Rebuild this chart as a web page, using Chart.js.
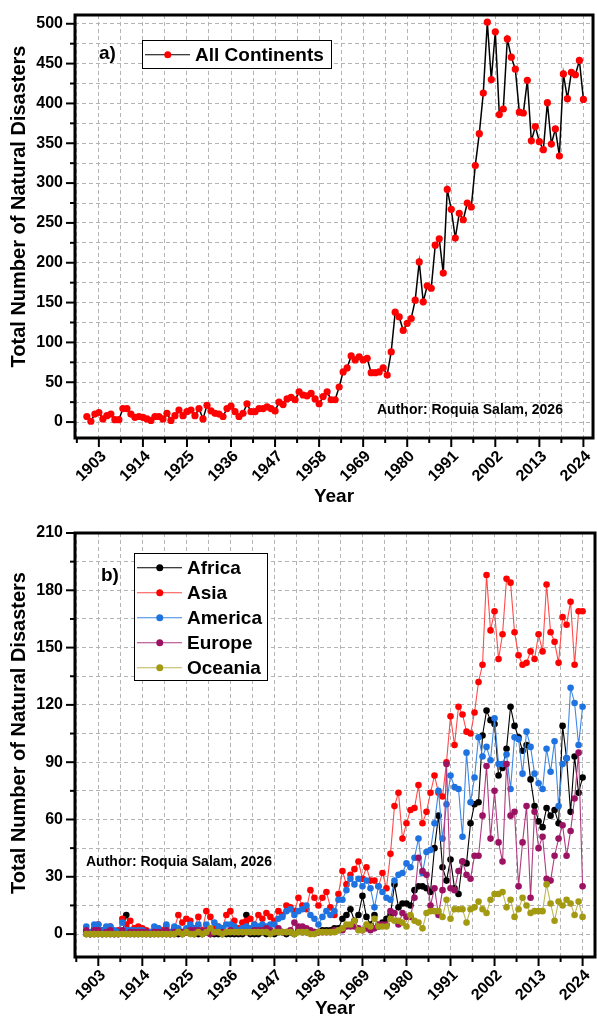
<!DOCTYPE html>
<html>
<head>
<meta charset="utf-8">
<script src="https://cdn.jsdelivr.net/npm/chart.js@4.4.1/dist/chart.umd.min.js"></script>
<style>
html,body{margin:0;padding:0;background:#fff;}
#wrap{position:relative;width:597px;height:1017px;overflow:hidden;font-family:"Liberation Sans",Arial,Helvetica,sans-serif;font-weight:bold;color:#000;}
.pane{position:absolute;left:0;width:597px;}
#p1{top:0;height:508px;}
#p2{top:508px;height:509px;}
canvas{display:block;}
.lbl{position:absolute;white-space:nowrap;}
.legend{position:absolute;border:1px solid #000;background:#fff;box-sizing:border-box;}
.row{position:absolute;left:2px;display:flex;align-items:center;}
.sample{position:relative;width:45px;height:10px;flex:none;}
.sample .ln{position:absolute;left:0;top:50%;width:45px;height:1.5px;transform:translateY(-50%);}
.sample .dt{position:absolute;left:50%;top:50%;width:7.5px;height:7.5px;border-radius:50%;transform:translate(-50%,-50%);}
.row .tx{margin-left:5px;font-size:19px;line-height:19px;white-space:nowrap;}
</style>
</head>
<body>
<div id="wrap">
  <div class="pane" id="p1"><canvas id="c1" width="597" height="508"></canvas></div>
  <div class="pane" id="p2"><canvas id="c2" width="597" height="509"></canvas></div>
  <div class="lbl" style="left:99px;top:43px;font-size:19px;line-height:19px;">a)</div>
  <div class="lbl" style="left:101px;top:565px;font-size:19px;line-height:19px;">b)</div>
  <div class="lbl" style="left:377px;top:401px;font-size:14px;line-height:16px;">Author: Roquia Salam, 2026</div>
  <div class="lbl" style="left:86px;top:853px;font-size:14px;line-height:16px;">Author: Roquia Salam, 2026</div>
  <div class="legend" id="legA" style="left:142px;top:40px;width:190px;height:29px;"></div>
  <div class="legend" id="legB" style="left:134px;top:553px;width:134px;height:128px;"></div>
</div>
<script>
// ---------------- DATA ----------------
const years = [
  1900,1901,1902,1903,1904,1905,1906,1907,1908,1909,
  1910,1911,1912,1913,1914,1915,1916,1917,1918,1919,
  1920,1921,1922,1923,1924,1925,1926,1927,1928,1929,
  1930,1931,1932,1933,1934,1935,1936,1937,1938,1939,
  1940,1941,1942,1943,1944,1945,1946,1947,1948,1949,
  1950,1951,1952,1953,1954,1955,1956,1957,1958,1959,
  1960,1961,1962,1963,1964,1965,1966,1967,1968,1969,
  1970,1971,1972,1973,1974,1975,1976,1977,1978,1979,
  1980,1981,1982,1983,1984,1985,1986,1987,1988,1989,
  1990,1991,1992,1993,1994,1995,1996,1997,1998,1999,
  2000,2001,2002,2003,2004,2005,2006,2007,2008,2009,
  2010,2011,2012,2013,2014,2015,2016,2017,2018,2019,
  2020,2021,2022,2023,2024
];
const allContinents = [
  7,1,10,12,4,8,10,3,3,17,
  17,10,6,7,6,4,2,7,7,4,
  11,2,8,15,8,13,15,8,17,4,
  21,14,11,10,7,17,20,13,7,11,
  23,13,13,17,17,19,17,14,25,22,
  29,31,28,38,34,33,36,29,23,32,
  38,28,28,44,63,68,83,78,82,78,
  80,62,62,63,68,59,88,138,132,115,
  124,130,153,201,151,171,168,222,230,187,
  292,267,231,262,254,275,270,322,362,413,
  502,430,490,386,393,481,458,443,389,388,
  429,353,371,352,342,401,349,368,334,437,
  406,439,436,454,405
];
const africa = [
  0,0,0,0,0,0,0,0,0,1,
  10,0,0,0,0,0,0,0,0,0,
  0,0,0,0,0,1,1,0,0,0,
  1,0,0,0,0,0,0,0,0,0,
  10,0,0,0,1,0,1,0,1,1,
  0,1,0,2,1,1,1,1,1,2,
  2,2,3,3,8,10,13,7,10,20,
  9,5,10,4,6,8,10,26,14,16,
  16,15,23,25,25,24,22,45,62,35,
  28,39,24,21,38,37,58,68,69,104,
  117,112,110,83,87,97,119,109,103,96,
  99,81,67,59,56,66,62,65,58,109,
  92,64,93,74,82
];
const asia = [
  1,0,3,5,2,3,4,1,2,8,
  5,7,3,4,3,2,1,2,3,2,
  4,1,3,10,6,8,7,3,9,2,
  12,9,3,4,3,10,12,7,3,6,
  7,8,5,10,8,11,9,7,12,10,
  15,14,12,19,15,13,23,19,15,19,
  22,14,10,21,33,26,31,34,38,29,
  35,28,28,25,32,24,42,67,74,50,
  58,65,66,78,58,64,74,83,74,72,
  90,114,99,119,115,106,105,116,132,141,
  188,159,169,144,157,186,184,158,146,141,
  142,148,144,157,148,183,158,153,142,166,
  162,174,141,169,169
];
const america = [
  4,1,5,5,2,4,4,2,1,6,
  2,2,2,2,2,1,1,4,3,1,
  5,1,4,3,1,3,5,3,5,1,
  5,2,6,4,3,5,5,4,2,3,
  4,3,5,4,5,4,5,5,8,9,
  12,13,10,12,13,15,10,8,5,9,
  12,10,12,18,18,23,29,26,29,25,
  28,24,14,25,22,19,18,28,31,32,
  37,35,40,50,32,43,44,58,75,50,
  68,83,77,76,51,95,69,82,103,93,
  98,91,113,89,89,94,76,103,102,84,
  106,98,84,79,76,97,85,101,67,89,
  92,129,121,99,119
];
const europe = [
  2,0,2,2,0,1,2,0,0,2,
  0,1,1,1,1,1,0,1,1,1,
  2,0,1,1,1,1,2,2,2,1,
  2,0,1,1,1,1,2,1,1,1,
  1,1,2,2,2,3,2,1,3,1,
  1,2,6,4,4,3,2,1,1,1,
  1,1,2,2,2,4,4,4,3,2,
  3,2,3,5,5,5,12,11,5,11,
  9,9,19,40,33,31,15,24,10,23,
  89,24,23,33,38,31,29,41,41,62,
  88,50,75,48,38,89,62,64,25,48,
  67,19,64,45,51,29,28,41,50,57,
  41,54,71,95,25
];
const oceania = [
  0,0,0,0,0,0,0,0,0,0,
  0,0,0,0,0,0,0,0,0,0,
  0,0,0,1,0,1,0,0,1,0,
  1,3,1,1,0,1,1,1,1,1,
  1,1,1,1,1,1,0,1,1,1,
  1,1,0,1,1,1,0,0,1,1,
  1,1,1,2,3,5,5,7,2,2,
  5,4,8,4,4,4,8,7,7,6,
  4,10,7,6,3,11,12,12,12,9,
  18,8,13,13,13,6,13,14,17,13,
  11,18,21,21,22,14,18,9,13,19,
  15,11,12,12,12,26,16,7,17,15,
  18,16,10,17,9
];
const xTickYears = [1903,1914,1925,1936,1947,1958,1969,1980,1991,2002,2013,2024];
const yTicksA = [0,50,100,150,200,250,300,350,400,450,500];
const yTicksB = [0,30,60,90,120,150,180,210];
const seriesA = { name: 'All Continents', values: allContinents };
const seriesB = [
  { name: 'Africa',  values: africa,  dot: '#000000', line: '#000000', order: 5 },
  { name: 'Asia',    values: asia,    dot: '#ff0000', line: '#ff4a4a', order: 4 },
  { name: 'America', values: america, dot: '#1f73e0', line: '#3d88e6', order: 3 },
  { name: 'Europe',  values: europe,  dot: '#9c1262', line: '#b03a80', order: 2 },
  { name: 'Oceania', values: oceania, dot: '#a39a12', line: '#bdb65a', order: 1 }
];

// ---------------- HELPERS ----------------
const FONT = "'Liberation Sans', Arial, Helvetica, sans-serif";
Chart.defaults.font.family = FONT;
Chart.defaults.color = '#000';

function tickSet(majors, lo, hi) {
  const h = (majors[1] - majors[0]) / 2;
  const s = new Set();
  majors.forEach(m => { s.add(m); s.add(m - h); s.add(m + h); });
  return [...s].filter(v => v >= lo && v <= hi).sort((a, b) => a - b);
}

const framePlugin = {
  id: 'frame',
  afterLayout(chart, args, opts) {
    // move the y-axis title centre upward (title is centred between scale top and bottom)
    const s = chart.scales.y;
    s.top -= 2 * (opts.titleShift || 0);
  },
  afterDraw(chart, args, opts) {
    const { ctx, chartArea: a, scales } = chart;
    ctx.save();
    ctx.strokeStyle = '#000';
    ctx.lineWidth = 2;
    ctx.setLineDash([]);
    scales.x.ticks.forEach(t => {
      const px = scales.x.getPixelForValue(t.value);
      if (px < a.left + 1 || px > a.right - 1) return;
      const len = opts.xMajor.includes(t.value) ? 9 : 5;
      ctx.beginPath(); ctx.moveTo(px, a.bottom); ctx.lineTo(px, a.bottom + len); ctx.stroke();
    });
    scales.y.ticks.forEach(t => {
      const py = scales.y.getPixelForValue(t.value);
      if (py < a.top - 0.5 || py > a.bottom - 1) return;
      const len = opts.yMajor.includes(t.value) ? 9 : 5;
      ctx.beginPath(); ctx.moveTo(a.left, py); ctx.lineTo(a.left - len, py); ctx.stroke();
    });
    ctx.lineWidth = 3;
    ctx.strokeRect(a.left, a.top, a.right - a.left, a.bottom - a.top);
    ctx.restore();
  }
};

function makeScales(o) {
  const xt = tickSet(xTickYears, o.xmin, o.xmax);
  const yt = tickSet(o.yMajors, o.ymin, o.ymax);
  const grid = { color: '#b4b4b4', lineWidth: 1, drawTicks: true, tickLength: 9, tickColor: 'rgba(0,0,0,0)' };
  return {
    x: {
      type: 'linear', position: 'bottom', bounds: 'data', min: o.xmin, max: o.xmax,
      afterBuildTicks: s => { s.ticks = xt.map(v => ({ value: v })); },
      afterFit: s => { s.height = o.xh; },
      grid: grid,
      border: { display: false, dash: [4, 3] },
      ticks: {
        autoSkip: false, maxRotation: 45, minRotation: 45, padding: 0, labelOffset: 5,
        font: { size: 16, weight: 'bold' }, color: '#000',
        callback: v => xTickYears.includes(v) ? String(v) : ''
      },
      title: { display: true, text: 'Year', color: '#000',
        font: { size: 19, weight: 'bold', lineHeight: o.xtlh }, padding: { top: 0, bottom: o.xtpad } }
    },
    y: {
      type: 'linear', position: 'left', bounds: 'data', min: o.ymin, max: o.ymax,
      afterBuildTicks: s => { s.ticks = yt.map(v => ({ value: v })); },
      afterFit: s => { s.width = 75; },
      grid: grid,
      border: { display: false, dash: [4, 3] },
      ticks: {
        autoSkip: false, padding: 3, font: { size: 16, weight: 'bold' }, color: '#000',
        callback: v => o.yMajors.includes(v) ? String(v) : ''
      },
      title: { display: true, text: 'Total Number of Natural Disasters', color: '#000',
        font: { size: 20, weight: 'bold', lineHeight: 1 }, padding: { top: 9, bottom: 0 } }
    }
  };
}

// ---------------- CHART A ----------------
new Chart(document.getElementById('c1'), {
  type: 'line',
  data: {
    datasets: [{
      label: seriesA.name,
      data: years.map((y, i) => ({ x: y, y: seriesA.values[i] })),
      borderColor: '#000', borderWidth: 1.5,
      pointBackgroundColor: '#ff0000', pointBorderColor: '#ff0000', pointBorderWidth: 0,
      pointRadius: 3.6, tension: 0, fill: false
    }]
  },
  options: {
    responsive: false, animation: false, devicePixelRatio: 1,
    layout: { autoPadding: false, padding: { left: 0, top: 15, right: 1, bottom: 0 } },
    scales: makeScales({ xmin: 1897.04, xmax: 2026.4, ymin: -20, ymax: 511, yMajors: yTicksA, xh: 70, xtpad: 1.5, xtlh: 1 }),
    plugins: { legend: { display: false }, tooltip: { enabled: false },
      frame: { xMajor: xTickYears, yMajor: yTicksA, titleShift: 20 } }
  },
  plugins: [framePlugin]
});

// ---------------- CHART B ----------------
new Chart(document.getElementById('c2'), {
  type: 'line',
  data: {
    datasets: seriesB.map(s => ({
      label: s.name,
      data: years.map((y, i) => ({ x: y, y: s.values[i] })),
      borderColor: s.line, borderWidth: 1.1,
      pointBackgroundColor: s.dot, pointBorderColor: s.dot, pointBorderWidth: 0,
      pointRadius: 3.3, tension: 0, fill: false, order: s.order
    }))
  },
  options: {
    responsive: false, animation: false, devicePixelRatio: 1,
    layout: { autoPadding: false, padding: { left: 0, top: 25, right: 2, bottom: 0 } },
    scales: makeScales({ xmin: 1897.18, xmax: 2027.1, ymin: -12, ymax: 210, yMajors: yTicksB, xh: 60, xtpad: 0, xtlh: 0.85 }),
    plugins: { legend: { display: false }, tooltip: { enabled: false },
      frame: { xMajor: xTickYears, yMajor: yTicksB, titleShift: 12 } }
  },
  plugins: [framePlugin]
});

// ---------------- LEGENDS (HTML) ----------------
function legendRow(name, dot, line, top, h) {
  return '<div class="row" style="top:' + top + 'px;height:' + h + 'px;">' +
    '<span class="sample"><span class="ln" style="background:' + line + '"></span>' +
    '<span class="dt" style="background:' + dot + '"></span></span>' +
    '<span class="tx">' + name + '</span></div>';
}
document.getElementById('legA').innerHTML = legendRow(seriesA.name, '#ff0000', '#000000', 0, 27);
document.getElementById('legB').innerHTML = seriesB.map((s, i) => legendRow(s.name, s.dot, s.line, 1 + i * 25, 25)).join('');
</script>
</body>
</html>
